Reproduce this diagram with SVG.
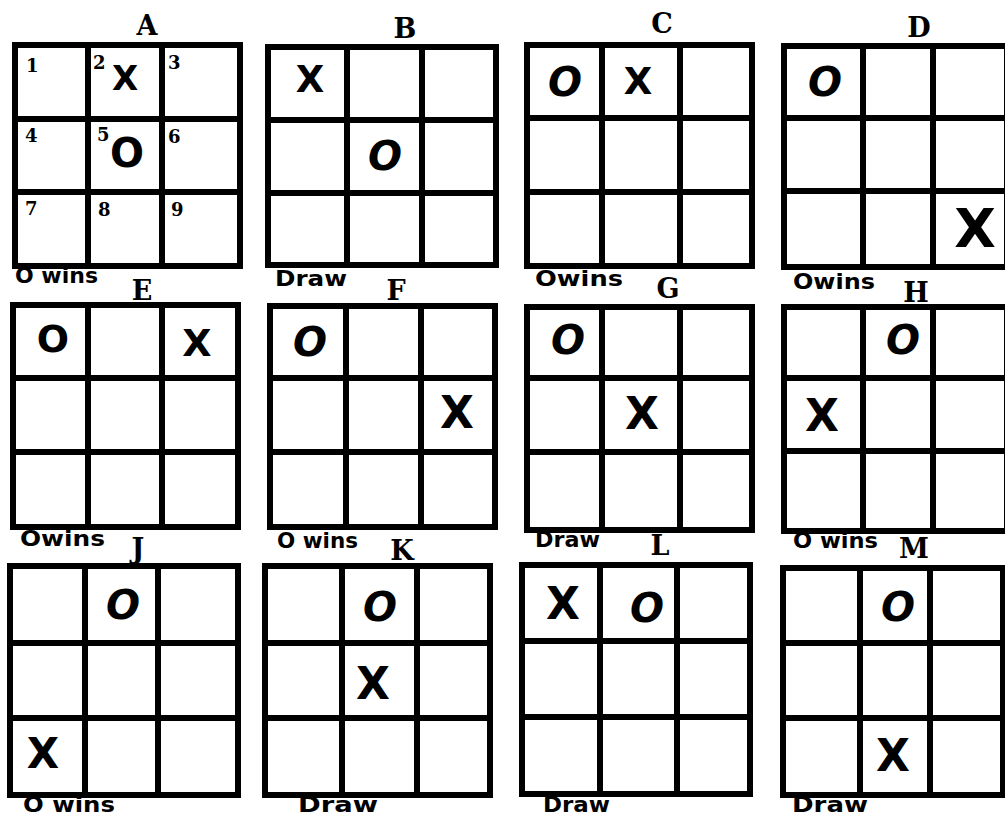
<svg xmlns="http://www.w3.org/2000/svg" width="1005" height="817" viewBox="0 0 1005 817">
<style>
.g{fill:none;stroke:#000;stroke-width:6;stroke-linejoin:miter;stroke-linecap:square}
.x{font-family:"DejaVu Sans",sans-serif;font-weight:bold;font-size:42px;text-anchor:middle;fill:#000}
.o{font-family:"DejaVu Sans",sans-serif;font-weight:bold;font-style:oblique;font-size:40px;text-anchor:middle;fill:#000}
.t{font-family:"DejaVu Serif",serif;font-weight:bold;font-size:27px;text-anchor:middle;fill:#000}
.r{font-family:"DejaVu Sans",sans-serif;font-weight:bold;font-size:21px;fill:#000}
.n{font-family:"DejaVu Serif",serif;font-weight:bold;font-size:18px;fill:#000}
</style>
<rect width="1005" height="817" fill="#fff"/>
<g id="A">
<path class="g" d="M15 45H240V266H15Z M88 45V266 M162 45V266 M15 119H240 M15 192H240"/>
<text class="t" x="147" y="35">A</text>
<text class="n" x="26" y="72">1</text><text class="n" x="93" y="69">2</text><text class="n" x="168" y="69">3</text>
<text class="n" x="25" y="142">4</text><text class="n" x="97" y="141">5</text><text class="n" x="168" y="143">6</text>
<text class="n" x="25" y="215">7</text><text class="n" x="98" y="216">8</text><text class="n" x="171" y="216">9</text>
<text class="x" x="125" y="90" style="font-size:34px">X</text>
<text class="x" x="127" y="167" style="font-size:40px;font-style:normal">O</text>
<text class="r" x="15" y="283" textLength="83" lengthAdjust="spacingAndGlyphs">O wins</text>
</g>
<g id="B">
<path class="g" d="M268 47H496V265H268Z M347 47V265 M422 47V265 M268 120H496 M268 193H496"/>
<text class="t" x="405" y="38">B</text>
<text class="x" x="310" y="92" style="font-size:37px">X</text>
<text class="o" x="385" y="170">O</text>
<text class="r" x="275" y="286" textLength="72" lengthAdjust="spacingAndGlyphs">Draw</text>
</g>
<g id="C">
<path class="g" d="M527 45H752V266H527Z M602 45V266 M680 45V266 M527 118H752 M527 192H752"/>
<text class="t" x="662" y="33">C</text>
<text class="o" x="565" y="96">O</text>
<text class="x" x="638" y="94" style="font-size:37px">X</text>
<text class="r" x="535" y="286" textLength="88" lengthAdjust="spacingAndGlyphs">Owins</text>
</g>
<g id="D">
<path class="g" d="M784 46H1007V267H784Z M863 46V267 M933 46V267 M784 118H1007 M784 191H1007"/>
<text class="t" x="919" y="37">D</text>
<text class="o" x="825" y="96">O</text>
<text class="x" x="975" y="247" style="font-size:54px">X</text>
<text class="r" x="793" y="289" textLength="82" lengthAdjust="spacingAndGlyphs">Owins</text>
</g>
<g id="E">
<path class="g" d="M13 305H238V527H13Z M88 305V527 M162 305V527 M13 378H238 M13 452H238"/>
<text class="t" x="142" y="300">E</text>
<text class="x" x="53" y="352" style="font-size:38px;font-style:normal">O</text>
<text class="x" x="197" y="356" style="font-size:38px">X</text>
<text class="r" x="20" y="546" textLength="85" lengthAdjust="spacingAndGlyphs">Owins</text>
</g>
<g id="F">
<path class="g" d="M270 306H495V527H270Z M346 306V527 M421 306V527 M270 378H495 M270 452H495"/>
<text class="t" x="396" y="300">F</text>
<text class="o" x="310" y="356">O</text>
<text class="x" x="457" y="428" style="font-size:44px">X</text>
<text class="r" x="277" y="548" textLength="81" lengthAdjust="spacingAndGlyphs">O wins</text>
</g>
<g id="G">
<path class="g" d="M527 307H752V530H527Z M602 307V530 M680 307V530 M527 378H752 M527 452H752"/>
<text class="t" x="668" y="298">G</text>
<text class="o" x="568" y="354">O</text>
<text class="x" x="642" y="429" style="font-size:44px">X</text>
<text class="r" x="535" y="547" textLength="65" lengthAdjust="spacingAndGlyphs">Draw</text>
</g>
<g id="H">
<path class="g" d="M784 307H1007V531H784Z M863 307V531 M933 307V531 M784 378H1007 M784 451H1007"/>
<text class="t" x="916" y="302">H</text>
<text class="o" x="903" y="354">O</text>
<text class="x" x="822" y="431" style="font-size:44px">X</text>
<text class="r" x="793" y="548" textLength="85" lengthAdjust="spacingAndGlyphs">O wins</text>
</g>
<g id="J">
<path class="g" d="M10 566H238V795H10Z M85 566V795 M158 566V795 M10 643H238 M10 718H238"/>
<text class="t" x="138" y="558">J</text>
<text class="o" x="123" y="619">O</text>
<text class="x" x="43" y="768" style="font-size:42px">X</text>
<text class="r" x="23" y="812" textLength="92" lengthAdjust="spacingAndGlyphs">O wins</text>
</g>
<g id="K">
<path class="g" d="M265 566H490V795H265Z M342 566V795 M417 566V795 M265 643H490 M265 718H490"/>
<text class="t" x="402" y="560">K</text>
<text class="o" x="380" y="621">O</text>
<text class="x" x="373" y="699" style="font-size:44px">X</text>
<text class="r" x="298" y="812" textLength="80" lengthAdjust="spacingAndGlyphs">Draw</text>
</g>
<g id="L">
<path class="g" d="M522 565H750V794H522Z M600 565V794 M677 565V794 M522 641H750 M522 717H750"/>
<text class="t" x="660" y="555">L</text>
<text class="x" x="563" y="619" style="font-size:44px">X</text>
<text class="o" x="647" y="622">O</text>
<text class="r" x="543" y="812" textLength="67" lengthAdjust="spacingAndGlyphs">Draw</text>
</g>
<g id="M">
<path class="g" d="M783 568H1003V795H783Z M860 568V795 M930 568V795 M783 643H1003 M783 718H1003"/>
<text class="t" x="914" y="558">M</text>
<text class="o" x="898" y="621">O</text>
<text class="x" x="893" y="771" style="font-size:44px">X</text>
<text class="r" x="792" y="812" textLength="76" lengthAdjust="spacingAndGlyphs">Draw</text>
</g>
<g id="connectors"></g>
</svg>
